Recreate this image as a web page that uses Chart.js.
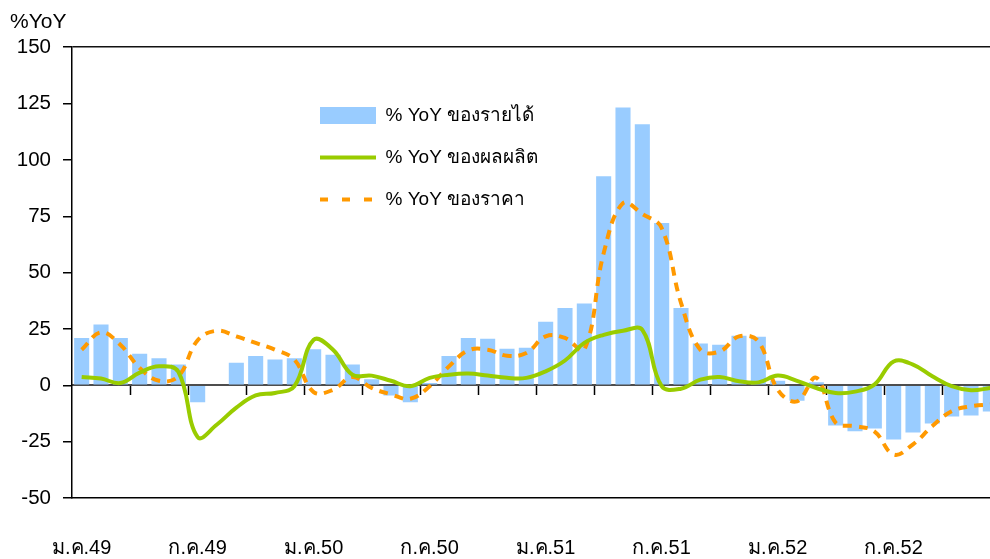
<!DOCTYPE html>
<html>
<head>
<meta charset="utf-8">
<script src="https://cdn.jsdelivr.net/npm/chart.js@4.4.1/dist/chart.umd.min.js"></script>
<style>
html,body{margin:0;padding:0;overflow:hidden;background:#fff;width:990px;height:559px}
#wrap{position:absolute;left:0;top:0;width:1000px;height:559px}
</style>
</head>
<body>
<div id="wrap"><canvas id="c" width="1000" height="559"></canvas></div>
<script>
// ---------- data ----------
const categories = [
  'ม.ค.49','ก.พ.49','มี.ค.49','เม.ย.49','พ.ค.49','มิ.ย.49','ก.ค.49','ส.ค.49','ก.ย.49','ต.ค.49','พ.ย.49','ธ.ค.49',
  'ม.ค.50','ก.พ.50','มี.ค.50','เม.ย.50','พ.ค.50','มิ.ย.50','ก.ค.50','ส.ค.50','ก.ย.50','ต.ค.50','พ.ย.50','ธ.ค.50',
  'ม.ค.51','ก.พ.51','มี.ค.51','เม.ย.51','พ.ค.51','มิ.ย.51','ก.ค.51','ส.ค.51','ก.ย.51','ต.ค.51','พ.ย.51','ธ.ค.51',
  'ม.ค.52','ก.พ.52','มี.ค.52','เม.ย.52','พ.ค.52','มิ.ย.52','ก.ค.52','ส.ค.52','ก.ย.52','ต.ค.52','พ.ย.52','ธ.ค.52'
];
const shownLabels = ['ม.ค.49','ก.ค.49','ม.ค.50','ก.ค.50','ม.ค.51','ก.ค.51','ม.ค.52','ก.ค.52'];

const revenueYoY = [
  21, 27, 21, 14, 12, 9.2, -7.5, 0, 10, 13, 11.5, 12,
  16, 13.5, 9.2, 2.7, -4.5, -7.5, 1, 13, 21, 20.7, 16.2, 16.7,
  28.2, 34.3, 36.3, 92.7, 123.3, 115.8, 72, 34.3, 18.5, 18, 22, 21.5,
  2, -6.8, 1.3, -17.8, -20.4, -19.2, -24, -20.9, -16.9, -13.8, -13.4, -11.6
];
const outputYoY = [
  3.7, 3, 1, 5.6, 8.4, 6, -23, -17.4, -9.9, -4.5, -3.4, -0.4,
  20.2, 15.8, 4.7, 4.3, 2, -0.4, 3.3, 4.7, 5.2, 4.3, 3.3, 3.3,
  6.2, 11, 18.8, 22.4, 24.2, 24.6, -0.4, -1.5, 2.5, 3.7, 1.8, 1.3,
  4.3, 2, -1.2, -3.4, -2.8, 0.3, 10.6, 9.2, 4, -0.4, -2.2, -1.2
];
const priceYoY = [
  15.8, 23.5, 18, 7.7, 2, 4, 20, 24.2, 21.7, 18.8, 15.8, 11.4,
  -3, -2, 3.7, -1.2, -4, -6, -0.4, 8.4, 15.5, 15.8, 13.1, 14.3,
  21.7, 21, 15.8, 58.6, 80.8, 76, 69.8, 36.6, 15.8, 15, 21.7, 19.5,
  -1.9, -7.1, 3.3, -16.6, -18.1, -20.4, -30.7, -26.2, -18.1, -11.5, -9.3, -8.5
];
const yTickValues = [-50, -25, 0, 25, 50, 75, 100, 125, 150];
const seriesNames = ['% YoY ของรายได้', '% YoY ของผลผลิต', '% YoY ของราคา'];
const yAxisTitle = '%YoY';

// ---------- chart ----------
const FONT = "'Liberation Sans', Arial, 'Noto Sans', 'DejaVu Sans', sans-serif";
Chart.defaults.font.family = FONT;
Chart.defaults.color = '#000';

const legendMover = {
  id: 'legendMover',
  afterLayout(chart) {
    const lg = chart.legend;
    if (!lg) return;
    const pad = lg.options.labels.padding;
    const w = lg.right - lg.left, h = lg.bottom - lg.top;
    lg.left = 320 - pad; lg.right = lg.left + w;
    lg.top = 106 - pad; lg.bottom = lg.top + h;
  }
};

new Chart(document.getElementById('c'), {
  type: 'bar',
  data: {
    labels: categories,
    datasets: [
      {
        type: 'bar', label: seriesNames[0], data: revenueYoY,
        backgroundColor: '#99CCFF', borderWidth: 0,
        categoryPercentage: 1, barPercentage: 0.78, order: 3
      },
      {
        type: 'line', label: seriesNames[1], data: outputYoY,
        borderColor: '#99CC00', backgroundColor: '#99CC00', borderWidth: 4,
        pointRadius: 0, tension: 0.4, fill: false, order: 1
      },
      {
        type: 'line', label: seriesNames[2], data: priceYoY,
        borderColor: '#FF9900', backgroundColor: '#FF9900', borderWidth: 4,
        borderDash: [9, 7], pointRadius: 0, tension: 0.4, fill: false, order: 2
      }
    ]
  },
  options: {
    responsive: false,
    animation: false,
    devicePixelRatio: 1,
    layout: { padding: { left: 10, top: 0, right: 0, bottom: 0 } },
    plugins: {
      tooltip: { enabled: false },
      title: {
        display: true, text: yAxisTitle, align: 'start', color: '#000',
        font: { size: 21, weight: 'normal' }, padding: { top: 10, bottom: 12 }
      },
      legend: {
        display: true, position: 'chartArea', align: 'start',
        labels: {
          color: '#000', font: { size: 19 }, padding: 23,
          usePointStyle: true, pointStyleWidth: 56, boxWidth: 56, boxHeight: 17,
          generateLabels(chart) {
            const items = Chart.defaults.plugins.legend.labels.generateLabels(chart);
            items.forEach(it => {
              const ds = chart.data.datasets[it.datasetIndex];
              if (ds.type === 'line') {
                it.pointStyle = 'line';
                if (ds.borderDash) it.lineDash = [8, 14];
              } else {
                it.pointStyle = 'rect';
                it.lineWidth = 0;
              }
            });
            return items.sort((a, b) => a.datasetIndex - b.datasetIndex);
          }
        }
      }
    },
    scales: {
      x: {
        type: 'category', position: 'bottom', offset: true,
        grid: { display: true, drawOnChartArea: false, drawTicks: true, tickLength: 38, color: 'rgba(0,0,0,0)', tickColor: 'rgba(0,0,0,0)' },
        border: { display: true, color: '#000', width: 1.5 },
        ticks: {
          autoSkip: false, maxRotation: 0, minRotation: 0, padding: 0,
          font: { size: 20 }, color: '#000',
          callback(v) { const l = this.getLabelForValue(v); return shownLabels.includes(l) ? l : ''; }
        },
        afterFit(s) { s.height = 61; }
      },
      x2: {
        type: 'category', position: { y: 0 }, offset: true, z: 1,
        grid: {
          offset: true, drawOnChartArea: false, drawTicks: true, tickLength: 9, tickWidth: 1.5,
          tickColor: ctx => (ctx.index > 0 && ctx.index % 3 === 0) ? '#000' : 'rgba(0,0,0,0)'
        },
        border: { display: true, color: '#4d4d4d', width: 2 },
        ticks: { display: false }
      },
      y: {
        type: 'linear', min: -50, max: 150,
        afterBuildTicks(s) { s.ticks = yTickValues.map(v => ({ value: v })); },
        ticks: { font: { size: 20.5 }, color: '#000', padding: 12 },
        grid: {
          drawOnChartArea: true, drawTicks: true, tickLength: 9, lineWidth: 1.5,
          color: ctx => (ctx.tick && ctx.tick.value === 150) ? '#111' : 'rgba(0,0,0,0)',
          tickColor: '#000'
        },
        border: { display: true, color: '#000', width: 1.5 },
        afterFit(s) { s.width = 62; }
      }
    }
  },
  plugins: [legendMover]
});
</script>
</body>
</html>
